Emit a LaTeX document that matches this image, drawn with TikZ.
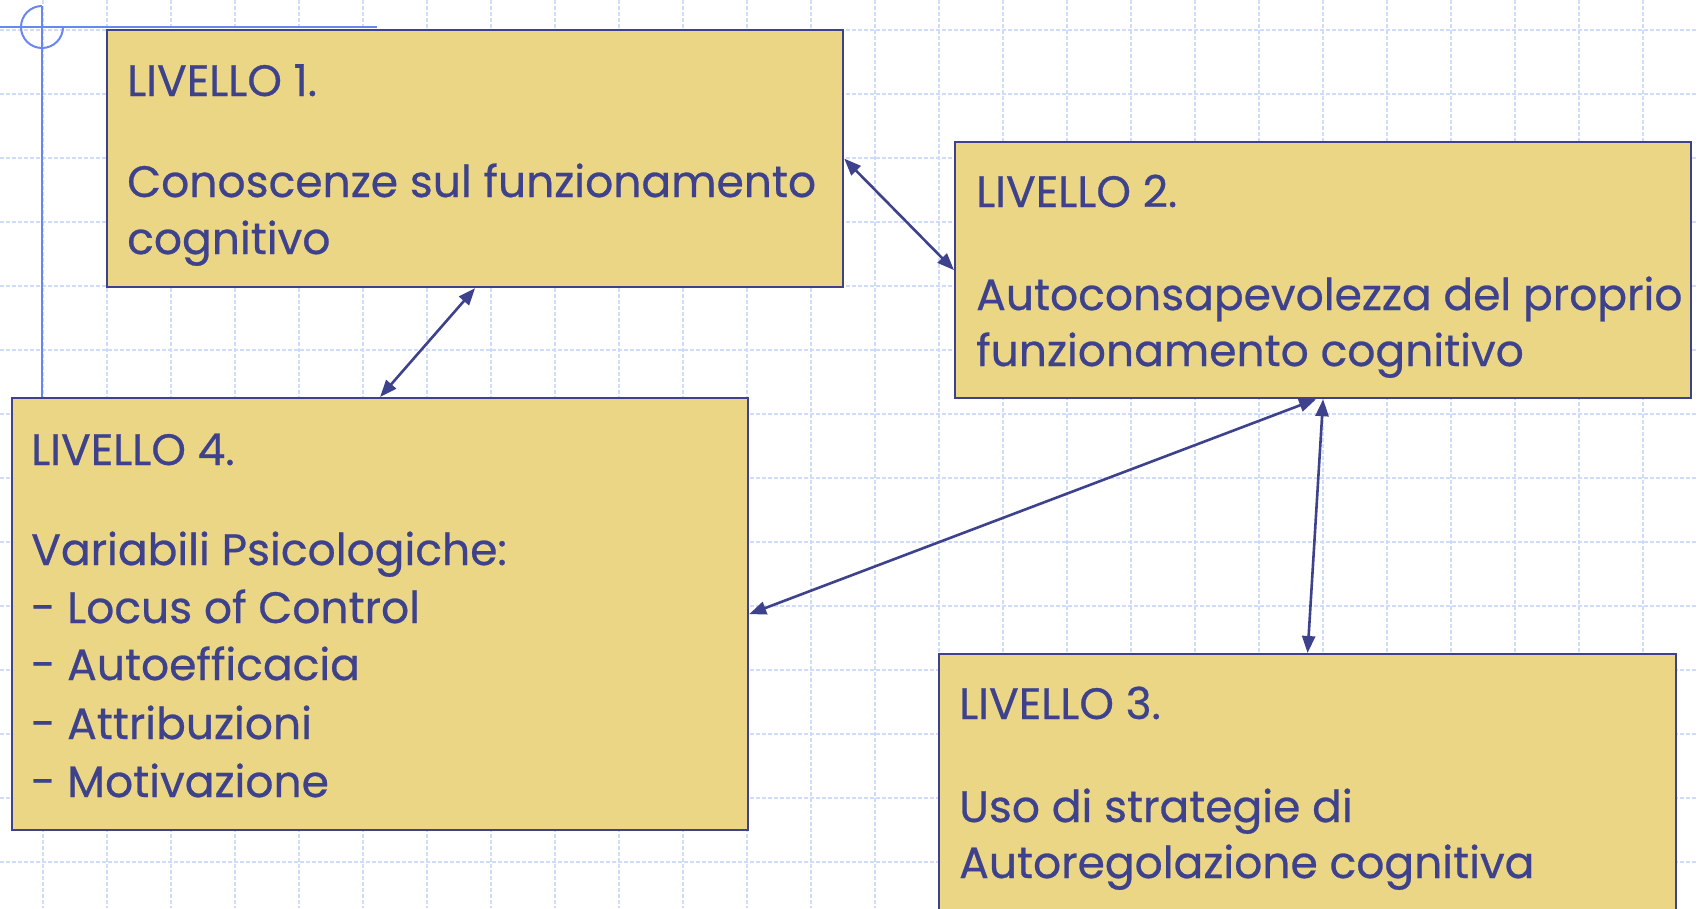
\documentclass[tikz,border=0pt]{standalone}
\usepackage{fontspec}
\setmainfont{Poppins}[FakeBold=0.6]
\usetikzlibrary{arrows.meta}
\definecolor{gridblue}{RGB}{208,220,252}
\definecolor{rulerblue}{RGB}{105,135,240}
\definecolor{boxfill}{RGB}{234,214,132}
\definecolor{ink}{RGB}{62,66,140}
\tikzset{
  gridline/.style={draw=gridblue, line width=1.6pt, dash pattern=on 4pt off 2pt},
  box/.style={draw=ink, line width=2.2pt, fill=boxfill, inner sep=0pt, anchor=north west},
  txt/.style={anchor=base west, inner sep=0pt, text=ink, font=\fontsize{44}{52}\selectfont},
  link/.style={draw=ink, line width=2.6pt,
    {Triangle[length=17pt,width=13pt]}-{Triangle[length=17pt,width=13pt]}},
}
\begin{document}
\begin{tikzpicture}[x=1pt,y=-1pt]
\useasboundingbox (0,0) rectangle (1698,908);
\clip (0,0) rectangle (1698,908);
\fill[white] (0,0) rectangle (1698,908);
% background grid
\foreach \gx in {43,107,...,1698} \draw[gridline] (\gx,0) -- (\gx,908);
\foreach \gy in {30,94,...,908} \draw[gridline] (0,\gy) -- (1698,\gy);
% corner rule with its quarter-open circle
\draw[rulerblue, line width=2pt] (0,27) -- (377,27);
\draw[rulerblue, line width=2pt] (42,6) -- (42,397);
\draw[rulerblue, line width=2pt] (42,6) arc[start angle=270, end angle=0, radius=21];
% level boxes
\node[box, minimum width=736pt, minimum height=257pt] (b1) at (106,29) {};
\node[box, minimum width=736pt, minimum height=256pt] (b2) at (954,141) {};
\node[box, minimum width=736pt, minimum height=432pt] (b4) at (11,397) {};
\node[box, minimum width=737pt, minimum height=300pt] (b3) at (938,653) {};
% texts
\node[txt] (t1a) at (127,96) {LIVELLO 1.};
\node[txt] (t1b) at (127,197) {Conoscenze sul funzionamento};
\node[txt] (t1c) at (127,254) {cognitivo};
\node[txt] (t2a) at (976,207) {LIVELLO 2.};
\node[txt] (t2b) at (976,310) {Autoconsapevolezza del proprio};
\node[txt] (t2c) at (976,366) {funzionamento cognitivo};
\node[txt] (t4a) at (31,465) {LIVELLO 4.};
\node[txt] (t4b) at (31,565) {Variabili Psicologiche:};
\node[txt] (t4c) at (31,623) {- Locus of Control};
\node[txt] (t4d) at (31,680) {- Autoefficacia};
\node[txt] (t4e) at (31,739) {- Attribuzioni};
\node[txt] (t4f) at (31,797) {- Motivazione};
\node[txt] (t3a) at (959,719) {LIVELLO 3.};
\node[txt] (t3b) at (959,822) {Uso di strategie di};
\node[txt] (t3c) at (959,878) {Autoregolazione cognitiva};
% links between levels
\draw[link] (b1.east) -- (b2.west);
\draw[link] (b1.south) -- (b4.north);
\draw[link] ([xshift=-7pt]b2.south) -- (b4.east);
\draw[link] (b2.south) -- (b3.north);
\end{tikzpicture}
\end{document}
